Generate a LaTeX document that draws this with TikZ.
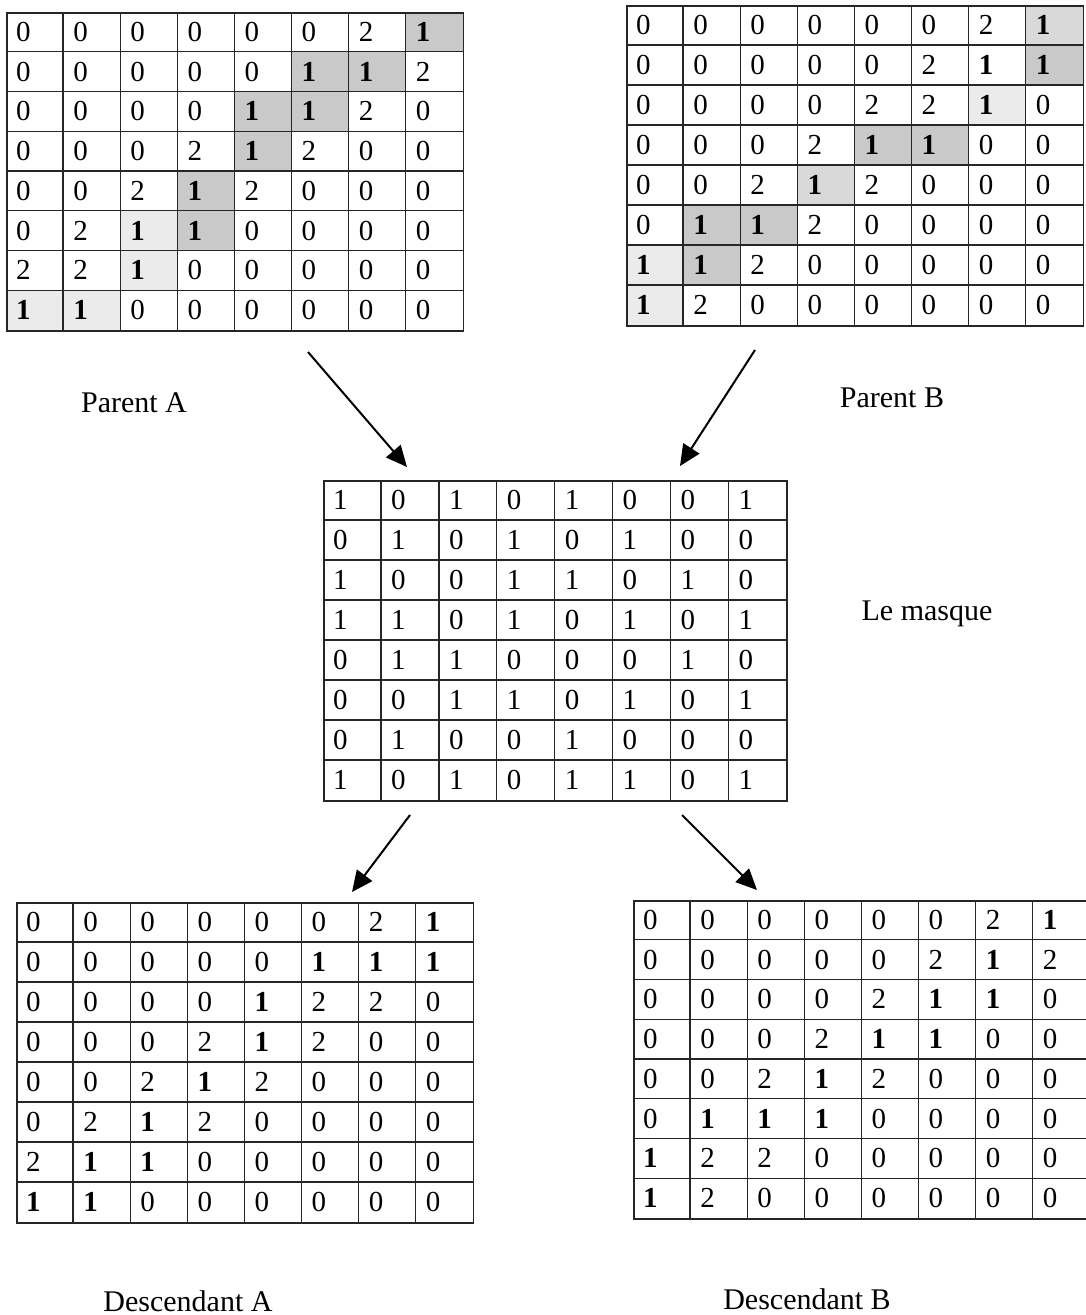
\documentclass[tikz,border=0pt]{standalone}
\usepackage{fontspec}
\setmainfont{Liberation Serif}
\usetikzlibrary{arrows.meta}
\tikzset{
  gridline/.style={line width=1.4pt, black!85},
  frame/.style={draw, line width=1.6pt, black!85, inner sep=0pt, anchor=north west},
  digit/.style={inner sep=0pt, anchor=west, font=\fontsize{29}{30}\selectfont},
  lbl/.style={inner sep=0pt, anchor=base, font=\fontsize{30}{36}\selectfont},
  arr/.style={line width=2pt, -{Triangle[length=21pt,width=19pt]}},
  strong/.style={fill=black!21},
  medium/.style={fill=black!15},
  light/.style={fill=black!8}
}
% #1 name, #2 x0, #3 y0, #4 cell width, #5 cell height, #6 rows, #7 font of the ones
\newcommand\drawgrid[7]{%
  \node[frame, minimum width={8*#4*1pt}, minimum height={8*#5*1pt}] (#1) at (#2,#3) {};
  \foreach \ii in {1,...,7} {
    \draw[gridline] ({#2+\ii*#4},#3) -- ({#2+\ii*#4},{#3+8*#5});
    \draw[gridline] (#2,{#3+\ii*#5}) -- ({#2+8*#4},{#3+\ii*#5});
  }
  \foreach \row [count=\ri from 0] in {#6} {
    \foreach \v [count=\ci from 0] in \row {
      \node[digit] (#1-\ri-\ci) at ({#2+\ci*#4+10},{#3+(\ri+0.5)*#5}) {\ifnum\v=1 #7\fi\v};
    }
  }
}
% #1 x0, #2 y0, #3 w, #4 h, #5 list r/c/style
\newcommand\cellfill[5]{%
  \foreach \ri/\ci/\st in {#5} {
    \fill[\st] ({#1+\ci*#3},{#2+\ri*#4}) rectangle ++(#3,#4);
  }
}
\begin{document}
\begin{tikzpicture}[x=1pt,y=-1pt]
\fill[white] (0,0) rectangle (1085,1315);
\useasboundingbox (0,0) rectangle (1085,1315);

% shading of the paths
\cellfill{6}{12}{57.1}{39.75}{0/7/strong,1/5/strong,1/6/strong,2/4/strong,2/5/strong,3/4/strong,4/3/strong,5/3/strong,5/2/light,6/2/light,7/0/light,7/1/light}
\cellfill{626}{5}{57.1}{40}{0/7/medium,1/7/strong,2/6/light,3/4/strong,3/5/strong,4/3/medium,5/1/strong,5/2/strong,6/0/light,6/1/strong,7/0/light}

% Parent A
\drawgrid{pa}{6}{12}{57.1}{39.75}{
 {0,0,0,0,0,0,2,1},{0,0,0,0,0,1,1,2},{0,0,0,0,1,1,2,0},{0,0,0,2,1,2,0,0},
 {0,0,2,1,2,0,0,0},{0,2,1,1,0,0,0,0},{2,2,1,0,0,0,0,0},{1,1,0,0,0,0,0,0}}{\bfseries}
% Parent B
\drawgrid{pb}{626}{5}{57.1}{40}{
 {0,0,0,0,0,0,2,1},{0,0,0,0,0,2,1,1},{0,0,0,0,2,2,1,0},{0,0,0,2,1,1,0,0},
 {0,0,2,1,2,0,0,0},{0,1,1,2,0,0,0,0},{1,1,2,0,0,0,0,0},{1,2,0,0,0,0,0,0}}{\bfseries}
% Mask
\drawgrid{mk}{323}{480}{57.9}{40}{
 {1,0,1,0,1,0,0,1},{0,1,0,1,0,1,0,0},{1,0,0,1,1,0,1,0},{1,1,0,1,0,1,0,1},
 {0,1,1,0,0,0,1,0},{0,0,1,1,0,1,0,1},{0,1,0,0,1,0,0,0},{1,0,1,0,1,1,0,1}}{}
% Descendant A
\drawgrid{da}{16}{902}{57.1}{40}{
 {0,0,0,0,0,0,2,1},{0,0,0,0,0,1,1,1},{0,0,0,0,1,2,2,0},{0,0,0,2,1,2,0,0},
 {0,0,2,1,2,0,0,0},{0,2,1,2,0,0,0,0},{2,1,1,0,0,0,0,0},{1,1,0,0,0,0,0,0}}{\bfseries}
% Descendant B
\drawgrid{db}{633}{900}{57.1}{39.75}{
 {0,0,0,0,0,0,2,1},{0,0,0,0,0,2,1,2},{0,0,0,0,2,1,1,0},{0,0,0,2,1,1,0,0},
 {0,0,2,1,2,0,0,0},{0,1,1,1,0,0,0,0},{1,2,2,0,0,0,0,0},{1,2,0,0,0,0,0,0}}{\bfseries}

% labels
\node[lbl] (lpa) at (134,412) {Parent A};
\node[lbl] (lpb) at (892,407) {Parent B};
\node[lbl] (lmk) at (927,620) {Le masque};
\node[lbl] (lda) at (188,1311) {Descendant A};
\node[lbl] (ldb) at (807,1309) {Descendant B};

% arrows
\coordinate (a1s) at (308,352); \coordinate (a1e) at (407,467);
\coordinate (a2s) at (755,350); \coordinate (a2e) at (680,466);
\coordinate (a3s) at (410,815); \coordinate (a3e) at (352,892);
\coordinate (a4s) at (682,815); \coordinate (a4e) at (757,890);
\draw[arr] (a1s) -- (a1e);
\draw[arr] (a2s) -- (a2e);
\draw[arr] (a3s) -- (a3e);
\draw[arr] (a4s) -- (a4e);
\end{tikzpicture}
\end{document}
